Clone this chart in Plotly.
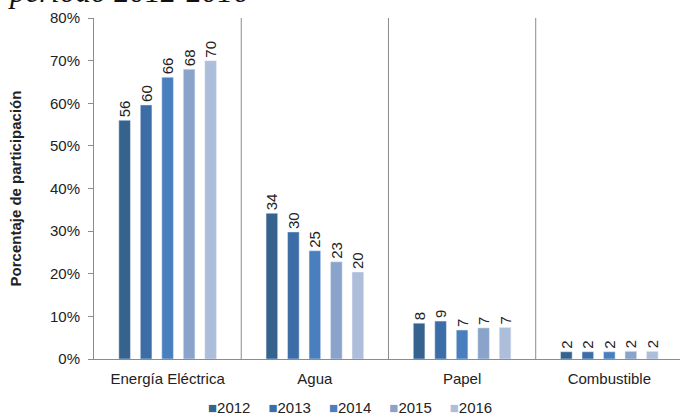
import plotly.graph_objects as go

categories = ["Energía Eléctrica", "Agua", "Papel", "Combustible"]
years = ["2012", "2013", "2014", "2015", "2016"]
values = {
    "2012": [56.0, 34.2, 8.4, 1.7],
    "2013": [59.6, 29.8, 8.9, 1.7],
    "2014": [66.1, 25.4, 6.8, 1.7],
    "2015": [68.0, 22.8, 7.3, 1.8],
    "2016": [70.0, 20.4, 7.4, 1.8],
}
colors = ["#35638E", "#3C6DA6", "#4A7FBF", "#8AA3CB", "#ADBEDB"]
y_ticks = [0, 10, 20, 30, 40, 50, 60, 70, 80]

FONT = "Liberation Sans, Arial, sans-serif"

fig = go.Figure()
for yr, col in zip(years, colors):
    vals = values[yr]
    fig.add_trace(go.Bar(
        name=yr, x=categories, y=vals, marker_color=col,
        text=[f"{round(v):d}" for v in vals], textposition="outside",
        textangle=-90, cliponaxis=False,
        textfont=dict(family=FONT, size=15, color="#222222"),
    ))

for i in range(len(categories) - 1):
    fig.add_shape(type="line", xref="x", yref="paper", x0=i + 0.5, x1=i + 0.5,
                  y0=0, y1=1, line=dict(color="#8C8C8C", width=1))

# partially visible caption at the very top
fig.add_annotation(text="<i>período 2012-2016</i>", xref="paper", yref="paper",
                   x=(6 - 94) / 586, y=1, xanchor="left", yanchor="bottom", yshift=7,
                   showarrow=False,
                   font=dict(family="Liberation Serif, serif", size=31, color="#111111"))

# legend drawn as text with coloured squares
SP = "\u2003\u2009"
legend_text = SP.join(
    f"<span style='color:{c}'>■</span>{y}" for y, c in zip(years, colors)
)
fig.add_annotation(text=legend_text, xref="paper", yref="paper",
                   x=(350 - 94) / 586, y=-(407 - 359) / 341, xanchor="center",
                   yanchor="middle", showarrow=False,
                   font=dict(family=FONT, size=15, color="#222222"))

fig.update_layout(
    width=680, height=418,
    margin=dict(l=94, r=0, t=18, b=59, autoexpand=False),
    paper_bgcolor="white", plot_bgcolor="white",
    barmode="group", bargap=0.27, bargroupgap=0.46,
    font=dict(family=FONT, size=13, color="#222222"),
    showlegend=False,
    uniformtext=dict(minsize=15, mode="show"),
)
fig.update_xaxes(range=[-0.5, 3.48], showline=True, linecolor="#8C8C8C", linewidth=1,
                 ticks="outside", ticklen=6, tickcolor="rgba(0,0,0,0)",
                 showgrid=False, tickfont=dict(size=15), automargin=False)
fig.update_yaxes(range=[0, 80], tickvals=y_ticks, ticktext=[f"{t}%" for t in y_ticks],
                 showline=True, linecolor="#8C8C8C", linewidth=1, ticks="outside",
                 ticklen=5, tickcolor="#8C8C8C", showgrid=False, zeroline=False,
                 tickfont=dict(size=15), automargin=False, ticklabelstandoff=5,
                 title=dict(text="<b>Porcentaje de participación</b>", font=dict(size=15),
                            standoff=24))

fig.write_html("out.html", config={"displayModeBar": False},
               post_script="document.body.style.margin='0';document.body.style.overflow='hidden';")
